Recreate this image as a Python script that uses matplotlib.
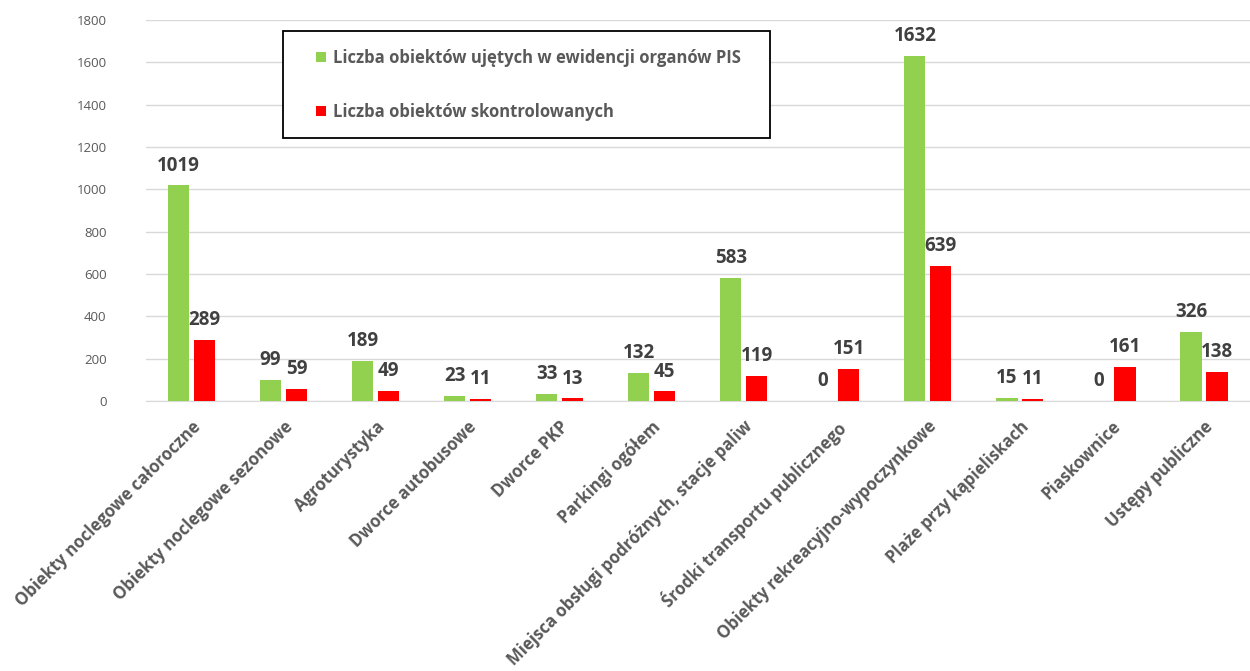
import matplotlib
matplotlib.use("Agg")
import matplotlib.pyplot as plt
from matplotlib.patches import Rectangle
import numpy as np

categories = [
    "Obiekty noclegowe całoroczne",
    "Obiekty noclegowe sezonowe",
    "Agroturystyka",
    "Dworce autobusowe",
    "Dworce PKP",
    "Parkingi ogółem",
    "Miejsca obsługi podróżnych, stacje paliw",
    "Środki transportu publicznego",
    "Obiekty rekreacyjno-wypoczynkowe",
    "Plaże przy kąpieliskach",
    "Piaskownice",
    "Ustępy publiczne",
]
registered = [1019, 99, 189, 23, 33, 132, 583, 0, 1632, 15, 0, 326]
inspected = [289, 59, 49, 11, 13, 45, 119, 151, 639, 11, 161, 138]
series_names = ["Liczba obiektów ujętych w ewidencji organów PIS",
                "Liczba obiektów skontrolowanych"]
yticks = list(range(0, 1801, 200))

plt.rcParams['font.family'] = ['Open Sans', 'DejaVu Sans']

fig = plt.figure(figsize=(12.5, 6.71), dpi=100)
ax = fig.add_axes([0.1164, 0.4024, 0.8836, 0.5678])

x = np.arange(len(categories))
w = 0.23
off = 0.141
b1 = ax.bar(x - off, registered, w, color="#92D050", label=series_names[0], zorder=3)
b2 = ax.bar(x + off, inspected, w, color="#FF0000", label=series_names[1], zorder=3)

for bars in (b1, b2):
    for rect in bars:
        h = rect.get_height()
        ax.annotate(f"{int(h)}", (rect.get_x() + rect.get_width() / 2, h),
                    xytext=(0, 7), textcoords="offset points",
                    ha="center", va="bottom", fontsize=13.5, fontweight="bold",
                    color="#404040")

ax.set_xlim(-0.5, len(categories) - 0.5)
ax.set_ylim(0, 1800)
ax.set_yticks(yticks)
ax.set_yticklabels([str(t) for t in yticks], fontsize=9.5, color="#595959")
ax.yaxis.grid(True, color="#D9D9D9", linewidth=1, zorder=0)
ax.set_axisbelow(True)
for s in ["top", "right", "left"]:
    ax.spines[s].set_visible(False)
ax.spines["bottom"].set_color("#D9D9D9")
ax.tick_params(axis="both", length=0)
ax.tick_params(axis="y", pad=28)
ax.set_xticks(x)
ax.set_xticklabels(categories, rotation=45, ha="right", rotation_mode="anchor",
                   fontsize=12.1, fontweight="bold", color="#595959")
ax.tick_params(axis="x", pad=12)

# legend box
box = Rectangle((283 / 1250, 1 - 138 / 671), (770 - 283) / 1250, (138 - 31) / 671,
                transform=fig.transFigure, facecolor="white", edgecolor="black",
                linewidth=1.3, zorder=5, clip_on=False)
ax.add_patch(box)
leg = ax.legend(loc="upper left", bbox_to_anchor=(316 / 1250, 1 - 49 / 671),
                bbox_transform=fig.transFigure, frameon=False,
                handlelength=0.6, handleheight=0.6, handletextpad=0.4,
                labelspacing=2.15, borderpad=0, borderaxespad=0,
                prop={"family": "Open Sans", "weight": "bold", "size": 12})
leg.set_zorder(6)
for t in leg.get_texts():
    t.set_color("#595959")

fig.savefig("out.png", dpi=100)
